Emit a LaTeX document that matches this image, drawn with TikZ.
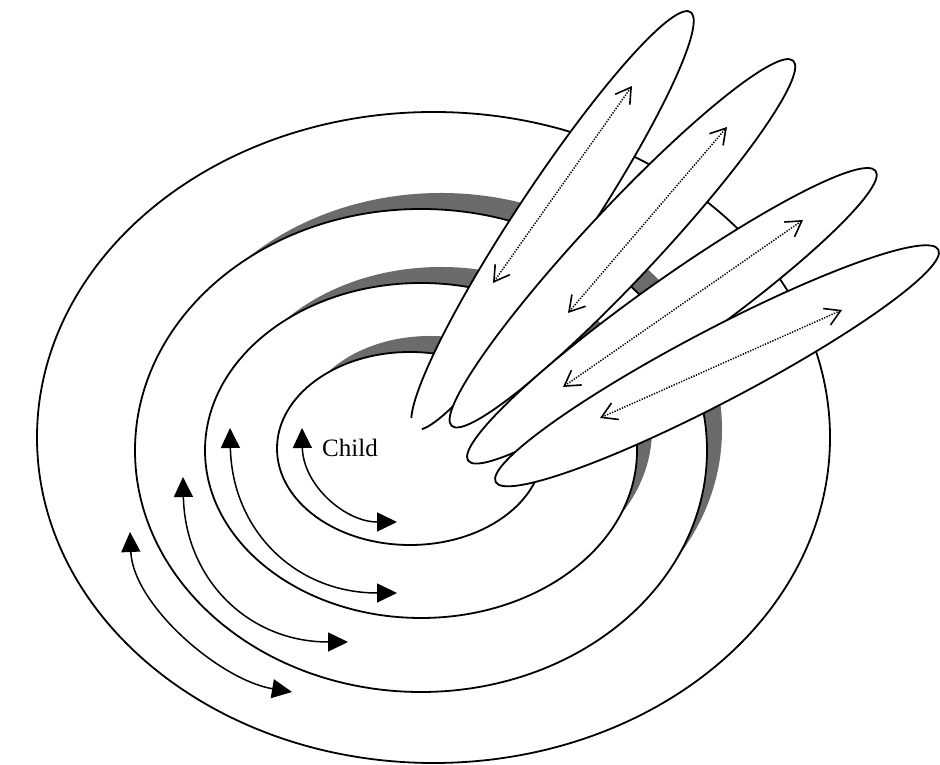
\documentclass[tikz,border=0pt]{standalone}
\usepackage{fontspec}
\setmainfont{Liberation Serif}
\usetikzlibrary{arrows.meta}

\begin{document}
\begin{tikzpicture}[
    x=1pt, y=1pt,
    rim/.style={line width=1.8pt},
    ring/.style={rim, draw, fill=white},
    rimgray/.style={fill=black!58},
    petal/.style={rim, draw, fill=white},
    swing/.style={{Triangle[length=20pt,width=19pt]}-{Triangle[length=20pt,width=19pt]}, line width=1.5pt},
    twoway/.style={{Straight Barb[length=15pt,width=18pt,line width=1.6pt]}-{Straight Barb[length=15pt,width=18pt,line width=1.6pt]}, line width=1.5pt, dash pattern=on 1.3pt off 1.4pt},
    tag/.style={font=\fontsize{25}{29}\selectfont, inner sep=0pt}
]
    \path[use as bounding box] (0,0) rectangle (940,765);

    % bowl rings, inner ones with a grey rim
    \draw[ring] (433.5,327.5) ellipse (396.5 and 325.5);
    \fill[rimgray] (441,335.5) ellipse (281 and 236.5);
    \draw[ring] (421,314.5) ellipse (286 and 241.5);
    \fill[rimgray] (441,335.5) ellipse (211 and 162.5);
    \draw[ring] (421,314.5) ellipse (216 and 167.5);
    \fill[rimgray] (430,337.5) ellipse (128 and 91.5);
    \draw[ring] (410,316.5) ellipse (133 and 96.5);

    % movement along the rings
    \coordinate (s1) at (302,337);
    \coordinate (e1) at (397,243);
    \coordinate (s2) at (230,337);
    \coordinate (e2) at (397,172);
    \coordinate (s3) at (183,288);
    \coordinate (e3) at (348,123);
    \coordinate (s4) at (130,233);
    \coordinate (e4) at (292,73);
    \draw[swing] (s1) .. controls (303,280) and (345,243) .. (e1);
    \draw[swing] (s2) .. controls (232,235) and (295,172) .. (e2);
    \draw[swing] (s3) .. controls (185,186) and (248,123) .. (e3);
    \draw[swing] (s4) .. controls (133,160) and (220,85) .. (e4);
    \node[tag, anchor=base west] (child) at (322,308) {Child};

    % petals
    \begin{scope}[shift={(552.5,544.5)}, rotate=56.5]
        \fill[white] (0,0) ellipse (250 and 36);
        \draw[rim] (190:250 and 36) arc[start angle=190, end angle=526, x radius=250, y radius=36];
    \end{scope}
    \coordinate (p1a) at (493,482);
    \coordinate (p1b) at (632,679);
    \draw[twoway] (p1a) -- (p1b);

    \filldraw[petal, rotate around={46.9:(622.4,521.7)}] (622.4,521.7) ellipse (250 and 36);
    \coordinate (p2a) at (568,452);
    \coordinate (p2b) at (727,638);
    \draw[twoway] (p2a) -- (p2b);

    \filldraw[petal, rotate around={35.4:(671.9,449.2)}] (671.9,449.2) ellipse (250 and 36);
    \coordinate (p3a) at (563,378);
    \coordinate (p3b) at (803,545);
    \draw[twoway] (p3a) -- (p3b);

    \filldraw[petal, rotate around={27.7:(717,399.2)}] (717,399.2) ellipse (250 and 36);
    \coordinate (p4a) at (600,347);
    \coordinate (p4b) at (842,455);
    \draw[twoway] (p4a) -- (p4b);
\end{tikzpicture}
\end{document}
